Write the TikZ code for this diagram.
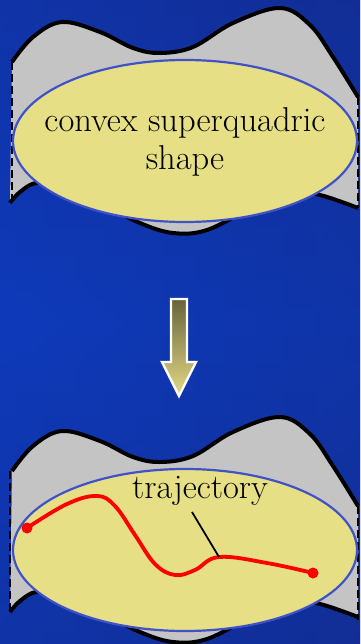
\documentclass[tikz,border=0pt]{standalone}
\usetikzlibrary{shapes.geometric}
\definecolor{bgA}{RGB}{14,58,186}
\definecolor{bgB}{RGB}{18,46,150}
\definecolor{surf}{RGB}{196,196,196}
\definecolor{sq}{RGB}{230,223,134}
\definecolor{sqline}{RGB}{64,82,200}
\definecolor{arrtop}{RGB}{104,99,60}
\definecolor{arrbot}{RGB}{228,218,134}
\tikzset{
  surface/.style={fill=surf},
  rim/.style={line width=4pt, black},
  sideedge/.style={line width=2.8pt, black, dash pattern=on 8pt off 4pt},
  superq/.style={ellipse, fill=sq, draw=sqline, line width=2.2pt, minimum width=344pt, minimum height=162pt, inner sep=0pt},
  lbl/.style={font=\fontsize{34.5}{38}\selectfont, align=center, inner sep=0pt},
  traj/.style={red, line width=3.8pt},
  enddot/.style={circle, fill=red, inner sep=0pt, minimum size=11pt},
}
\begin{document}
\begin{tikzpicture}[x=1pt, y=-1pt]
\useasboundingbox (0,0) rectangle (360,644);
\shade[left color=bgA, right color=bgB] (0,0) rectangle (360,644);
\shade[top color=bgB, bottom color=bgB, middle color=bgA, opacity=0.5] (0,0) rectangle (360,644);
% ---- top panel ----
\fill[surface] plot[smooth, tension=0.6] coordinates {(12,62) (33,37) (62,22) (100,32) (133,48) (160,53) (193,47) (233,23) (280,8) (310,25) (333,57) (358,97)}
  -- plot[smooth, tension=0.6] coordinates {(358,208) (320,195) (290,192) (253,207) (207,230) (173,233) (140,223) (100,203) (67,188) (37,183) (20,192) (10,203)} -- cycle;
\draw[rim] plot[smooth, tension=0.6] coordinates {(12,62) (33,37) (62,22) (100,32) (133,48) (160,53) (193,47) (233,23) (280,8) (310,25) (333,57) (358,97)};
\draw[rim] plot[smooth, tension=0.6] coordinates {(358,208) (320,195) (290,192) (253,207) (207,230) (173,233) (140,223) (100,203) (67,188) (37,183) (20,192) (10,203)};
\coordinate (tl1) at (12,62); \coordinate (tl2) at (12,203);
\coordinate (tr1) at (358,97); \coordinate (tr2) at (358,208);
\draw[sideedge] (tl1) -- (tl2);
\draw[sideedge] (tr1) -- (tr2);
\node[superq] (sq1) at (185,141) {};
\node[lbl] (txt1) at (185,142) {convex superquadric\\shape};
% ---- arrow ----
\shadedraw[top color=arrtop, bottom color=arrbot, draw=white, line width=2.4pt, line join=miter]
  (171,299) -- (187,299) -- (187,362) -- (196,362) -- (179,396) -- (162,362) -- (171,362) -- cycle;
% ---- bottom panel ----
\begin{scope}[yshift=-409pt]
\fill[surface] plot[smooth, tension=0.6] coordinates {(12,62) (33,37) (62,22) (100,32) (133,48) (160,53) (193,47) (233,23) (280,8) (310,25) (333,57) (358,97)}
  -- plot[smooth, tension=0.6] coordinates {(358,208) (320,195) (290,192) (253,207) (207,230) (173,233) (140,223) (100,203) (67,188) (37,183) (20,192) (10,203)} -- cycle;
\draw[rim] plot[smooth, tension=0.6] coordinates {(12,62) (33,37) (62,22) (100,32) (133,48) (160,53) (193,47) (233,23) (280,8) (310,25) (333,57) (358,97)};
\draw[rim] plot[smooth, tension=0.6] coordinates {(358,208) (320,195) (290,192) (253,207) (207,230) (173,233) (140,223) (100,203) (67,188) (37,183) (20,192) (10,203)};
\coordinate (bl1) at (10,62); \coordinate (bl2) at (10,203);
\coordinate (br1) at (358,97); \coordinate (br2) at (358,211);
\draw[sideedge] (bl1) -- (bl2);
\draw[sideedge] (br1) -- (br2);
\node[superq] (sq2) at (185,141) {};
\end{scope}
\node[enddot] (start) at (27,528) {};
\node[enddot] (goal) at (313,573) {};
\coordinate (mid) at (219,557);
\draw[traj] plot[smooth, tension=0.65] coordinates {(27,528) (67,504) (97,496) (115,506) (135,535) (155,564) (175,575) (195,570) (219,557) (267,563) (313,573)};
\node[lbl] (tlabel) at (200,491) {trajectory};
\draw[line width=1.8pt] (192,512) -- (mid);
\end{tikzpicture}
\end{document}
